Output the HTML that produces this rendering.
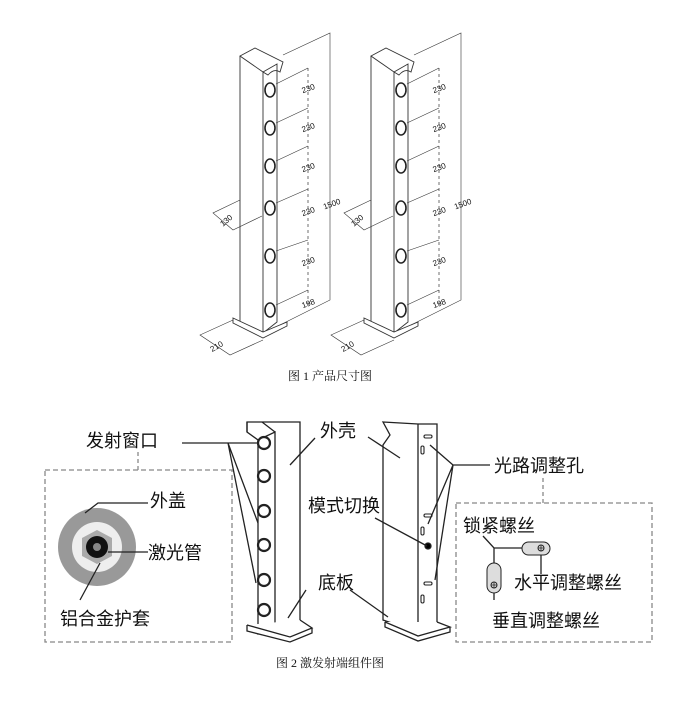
<!DOCTYPE html>
<html><head><meta charset="utf-8"><style>
body{margin:0;background:#fff}
svg{display:block}
text{font-family:"Liberation Sans","Noto Sans CJK SC",sans-serif;fill:#111}
.s{font-family:"Liberation Serif","Noto Serif CJK SC",serif}
</style></head><body>
<svg width="684" height="711" viewBox="0 0 684 711" xmlns="http://www.w3.org/2000/svg">
<defs>
<g id="p1" fill="none" stroke="#333" stroke-width="0.9">
 <path d="M240 56 L255 48 L283 62 L280 72 Q274 68 268 75 L263 72 L240 56 Z" fill="#fff"/>
 <path d="M240 56 L240 322 L263 333 L263 72 M263 72 L277 64 L277 322 L263 333"/>
 <path d="M233 318 L263 332 L287 322 L287 326 L263 338 L233 323 Z" fill="#fff"/>
 <g fill="#fff" stroke="#222" stroke-width="1.6">
  <ellipse cx="270" cy="90" rx="5" ry="7"/><ellipse cx="270" cy="128" rx="5" ry="7"/>
  <ellipse cx="270" cy="166" rx="5" ry="7"/><ellipse cx="270" cy="208" rx="5" ry="7"/>
  <ellipse cx="270" cy="256" rx="5" ry="7"/><ellipse cx="270" cy="310" rx="5" ry="7"/>
 </g>
 <path d="M308 68 V305" stroke-dasharray="3 3" stroke-width="0.7"/>
 <path d="M276 84 L308 68 M276 123 L308 108 M276 161 L308 146 M276 203 L308 189 M276 251 L308 240 M276 305 L308 290" stroke-width="0.6"/>
 <path d="M283 55 L330 33 V300 L280 325" stroke-width="0.6"/>
 <path d="M240 200 L213 213 L233 230 L262 216" stroke-width="0.6"/>
 <path d="M233 320 L200 335 L230 355 L263 340" stroke-width="0.6"/>
</g>
<g id="l1" font-size="8" fill="#333">
 <text x="302" y="92" transform="rotate(-20 306 90)">230</text>
 <text x="302" y="131" transform="rotate(-20 306 129)">230</text>
 <text x="302" y="171" transform="rotate(-20 306 169)">230</text>
 <text x="302" y="215" transform="rotate(-20 306 213)">230</text>
 <text x="302" y="265" transform="rotate(-20 306 263)">230</text>
 <text x="302" y="307" transform="rotate(-20 306 305)">198</text>
 <text x="323" y="208" transform="rotate(-20 328 205)">1500</text>
 <text x="220" y="225" transform="rotate(-40 224 222)">130</text>
 <text x="210" y="350" transform="rotate(-30 215 347)">210</text>
</g>
</defs>
<use href="#p1"/><use href="#l1"/>
<use href="#p1" x="131"/><use href="#l1" x="131"/>
<text class="s" x="288" y="380" font-size="12">图 1 产品尺寸图</text>

<!-- Fig 2 -->
<g fill="none" stroke="#222" stroke-width="1.3">
 <rect x="45" y="470" width="187" height="172" stroke="#888" stroke-dasharray="5 3"/>
 <path d="M138 452 V470" stroke="#888" stroke-dasharray="4 3"/>
 <path d="M182 443 H258 M228 443 L258 523 M228 443 L256 583"/>
 <path d="M247 422 H300 V628 L258 634 V440 L247 432 Z" fill="#fff"/>
 <path d="M258 440 L275 432 V628 M275 432 L262 422 M247 422 V432"/>
 <path d="M247 625 L290 637 L312 628 L300 620 M247 625 L247 631 L290 642 L312 633 V628" fill="#fff"/>
 <g fill="#fff" stroke-width="2.2">
  <circle cx="264" cy="443" r="6"/><circle cx="264" cy="476" r="6"/><circle cx="264" cy="511" r="6"/>
  <circle cx="264" cy="545" r="6"/><circle cx="264" cy="580" r="6"/><circle cx="264" cy="610" r="6"/>
 </g>
 <path d="M290 465 L315 438 M306 590 L288 618"/>
 <!-- right pillar -->
 <path d="M383 422 L418 424 L437 424 V628 L418 632 L383 620 V445 L390 435 Z" fill="#fff"/>
 <path d="M418 424 V632"/>
 <path d="M385 622 L418 636 L450 627 L437 622 M385 622 V627 L418 641 L450 632 V627" fill="#fff"/>
 <g stroke-width="1.1"><rect x="424" y="435" width="8" height="3" rx="1.5"/><rect x="421" y="446" width="3" height="8" rx="1.5"/>
 <rect x="424" y="514" width="8" height="3" rx="1.5"/><rect x="421" y="527" width="3" height="8" rx="1.5"/>
 <rect x="424" y="582" width="8" height="3" rx="1.5"/><rect x="421" y="595" width="3" height="8" rx="1.5"/></g>
 <circle cx="428" cy="546" r="3" fill="#000"/>
 <path d="M368 437 L400 458 M375 518 L427 546 M350 590 L388 617"/>
 <path d="M490 465 H453 M453 465 L430 445 M453 465 L428 524 M453 465 L435 580"/>
 <rect x="456" y="503" width="196" height="139" stroke="#888" stroke-dasharray="5 3"/>
 <path d="M543 478 V503" stroke="#888" stroke-dasharray="4 3"/>
 <path d="M483 536 L494 548 H525 M494 548 V565 M541 552 V574 M494 585 V600"/>
 <rect x="522" y="542" width="28" height="13" rx="6.5" fill="#ddd" stroke-width="1"/>
 <rect x="487" y="563" width="14" height="30" rx="7" fill="#ddd" stroke-width="1"/>
 <circle cx="541" cy="548" r="3" stroke-width="1"/><circle cx="494" cy="585" r="3" stroke-width="1"/>
 <path d="M538 548 H544 M541 545 V551 M491 585 H497 M494 582 V588" stroke-width="0.8"/>
 <path d="M97 547 m-40 0" />
</g>
<!-- lens -->
<circle cx="97" cy="547" r="39" fill="#999"/>
<circle cx="97" cy="547" r="25" fill="#eee"/>
<polygon points="97,530 112,538 112,556 97,564 82,556 82,538" fill="#aaa"/>
<circle cx="97" cy="547" r="11" fill="#111"/>
<circle cx="97" cy="547" r="4" fill="#888"/>
<g fill="none" stroke="#222" stroke-width="1.3">
 <path d="M148 503 H98 L85 513 M148 552 H108 M80 600 L100 563"/>
</g>
<g font-size="18">
 <text x="86" y="447">发射窗口</text>
 <text x="150" y="507">外盖</text>
 <text x="148" y="559">激光管</text>
 <text x="60" y="625">铝合金护套</text>
 <text x="320" y="437">外壳</text>
 <text x="308" y="512">模式切换</text>
 <text x="318" y="589">底板</text>
 <text x="494" y="472">光路调整孔</text>
 <text x="463" y="532">锁紧螺丝</text>
 <text x="514" y="589">水平调整螺丝</text>
 <text x="492" y="627">垂直调整螺丝</text>
</g>
<text class="s" x="276" y="667" font-size="12">图 2 激发射端组件图</text>
</svg>
</body></html>
